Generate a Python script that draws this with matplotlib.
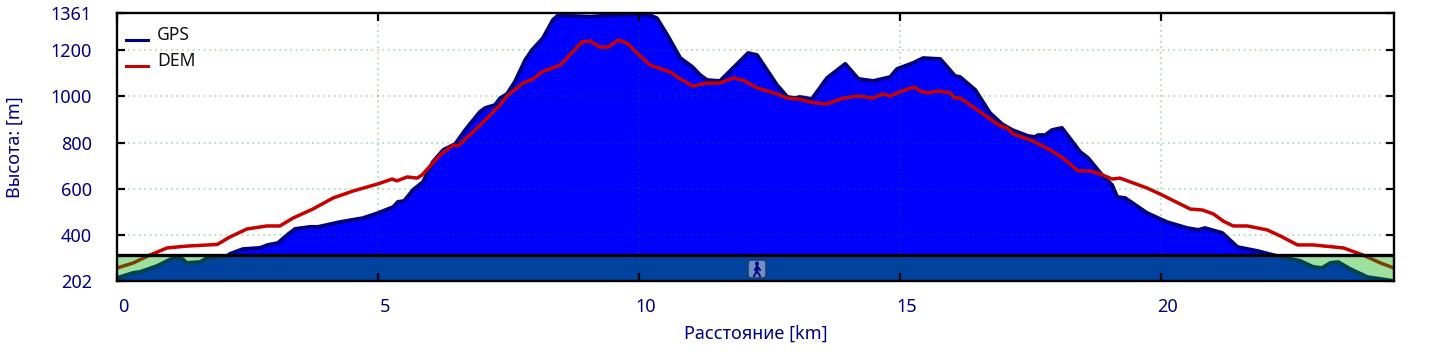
import matplotlib
matplotlib.use("Agg")
import matplotlib.pyplot as plt
from matplotlib.patches import FancyBboxPatch, Circle
from matplotlib.lines import Line2D
from matplotlib.transforms import ScaledTranslation

plt.rcParams['font.family'] = ['Noto Sans', 'DejaVu Sans']

gps_km = [0, .31, .44, .77, 1.07, 1.25, 1.34, 1.59, 1.72, 2.11, 2.16, 2.41, 2.74, 2.89, 3.08, 3.26, 3.41, 3.70, 3.85,
          4.27, 4.71, 5.0, 5.29, 5.38, 5.50, 5.67, 5.86, 6.05, 6.25, 6.48, 6.67, 6.95, 7.05, 7.24, 7.34, 7.47, 7.62,
          7.82, 7.95, 8.16, 8.35, 8.45, 9.06, 9.50, 9.98, 10.21, 10.34, 10.54, 10.79, 11.02, 11.17, 11.30, 11.55,
          11.80, 12.09, 12.26, 12.64, 12.84, 12.99, 13.08, 13.31, 13.60, 13.95, 14.20, 14.48, 14.81, 14.94, 15.25,
          15.44, 15.77, 16.05, 16.15, 16.44, 16.72, 16.95, 17.15, 17.45, 17.59, 17.64, 17.78, 17.91, 18.10, 18.45,
          18.60, 18.87, 19.06, 19.16, 19.31, 19.73, 20.11, 20.50, 20.71, 20.84, 21.17, 21.46, 21.84, 22.15, 22.66,
          22.91, 23.08, 23.24, 23.39, 23.62, 23.95, 24.46]
gps_alt = [215, 237, 241, 267, 301, 297, 280, 284, 301, 310, 319, 340, 345, 358, 366, 401, 427, 436, 436,
           457, 474, 496, 522, 544, 548, 596, 630, 717, 769, 795, 855, 933, 950, 963, 993, 1011, 1063,
           1158, 1201, 1253, 1331, 1351, 1345, 1352, 1354, 1351, 1339, 1266, 1166, 1128, 1093, 1071, 1067,
           1123, 1188, 1179, 1050, 998, 993, 998, 989, 1080, 1141, 1076, 1067, 1084, 1119, 1145,
           1166, 1162, 1089, 1084, 1028, 929, 881, 855, 829, 825, 833, 833, 855, 864, 760,
           734, 660, 617, 565, 561, 496, 457, 431, 423, 431, 410, 349, 332, 314, 289,
           263, 258, 280, 284, 254, 219, 202]

dem_km = [0, .31, .63, .96, 1.34, 1.92, 2.16, 2.49, 2.87, 3.12, 3.37, 3.75, 4.14, 4.52, 5.0, 5.27, 5.36, 5.56, 5.75,
          5.84, 6.19, 6.44, 6.53, 6.86, 7.34, 7.47, 7.78, 7.97, 8.14, 8.49, 8.91, 9.06, 9.25, 9.41, 9.60, 9.77, 9.96,
          10.21, 10.59, 10.79, 11.03, 11.30, 11.55, 11.80, 11.99, 12.26, 12.64, 12.84, 13.03, 13.22, 13.37, 13.60,
          13.91, 14.20, 14.48, 14.67, 14.81, 15.04, 15.27, 15.38, 15.54, 15.73, 15.96, 16.05, 16.15, 16.40, 16.67,
          16.92, 17.05, 17.16, 17.55, 17.87, 18.12, 18.41, 18.64, 18.83, 19.06, 19.21, 19.73, 19.98, 20.56, 20.79,
          21.0, 21.19, 21.38, 21.65, 22.03, 22.28, 22.61, 22.91, 23.49, 23.87, 24.20, 24.46]
dem_alt = [258, 280, 314, 345, 353, 360, 392, 427, 440, 440, 474, 513, 561, 591, 622, 643, 635, 652, 647,
           660, 747, 790, 786, 855, 963, 1002, 1058, 1076, 1106, 1136, 1236, 1240, 1214, 1214, 1244, 1231, 1188,
           1136, 1106, 1076, 1045, 1058, 1058, 1080, 1071, 1037, 1011, 993, 989, 980, 972, 968,
           993, 1002, 993, 1011, 1002, 1024, 1041, 1024, 1015, 1024, 1015, 993, 993, 955, 911,
           872, 864, 838, 807, 769, 734, 678, 678, 665, 643, 647, 604, 578, 513, 509,
           492, 461, 440, 440, 423, 397, 358, 358, 345, 314, 280, 258]

x_ticks = [0, 5, 10, 15, 20]
y_ticks = [202, 400, 600, 800, 1000, 1200, 1361]
y_min, y_max = 202, 1361
x_max = 24.46
band_top = 314

W, H = 1453, 359
navy = '#000080'

fig = plt.figure(figsize=(W / 100, H / 100), dpi=100)
ax = fig.add_axes([117 / W, (H - 281) / H, 1277 / W, 268 / H])

ax.fill_between(gps_km, gps_alt, y_min, color='#0000ff', lw=0, zorder=1)
ax.plot(gps_km, gps_alt, color=navy, lw=2.8, zorder=2, solid_joinstyle='round')
ax.plot(dem_km, dem_alt, color='#c80000', lw=2.5, zorder=2.1, solid_joinstyle='round')

# band at the bottom tints everything under it
ax.axhspan(y_min, band_top, color='#00ae00', alpha=0.38, lw=0, zorder=2.2)
ax.axhline(band_top, color='black', lw=2.4, zorder=2.3)

ax.set_xlim(0, x_max)
ax.set_ylim(y_min, y_max)
ax.set_xticks(x_ticks)
ax.set_yticks(y_ticks)
ax.set_axisbelow(False)
ax.grid(True, color='#008000', alpha=0.28, ls=(0, (1, 2)), lw=1.3)
ax.tick_params(direction='in', length=6, width=1.6, color='black', top=True, right=True,
               labelcolor=navy, labelsize=13)
ax.tick_params(axis='x', pad=12)
ax.tick_params(axis='y', pad=18)
for lab in ax.get_xticklabels():
    lab.set_transform(lab.get_transform() + ScaledTranslation(6.5 / 100, 0, fig.dpi_scale_trans))
for s in ax.spines.values():
    s.set_linewidth(1.7)
    s.set_zorder(6)

fig.text(15 / W, 1 - 147 / H, 'Высота: [m]', rotation=90, color=navy, fontsize=13, ha='center', va='center')
fig.text(756 / W, 1 - 334 / H, 'Расстояние [km]', color=navy, fontsize=13, ha='center', va='center')

# legend drawn by hand, the handles sit lower than the text
for name, color, y in [('GPS', navy, 35), ('DEM', '#c80000', 61)]:
    fig.add_artist(Line2D([126 / W, 148 / W], [1 - (y + 5) / H] * 2, color=color, lw=2.2))
    fig.text(157 / W, 1 - y / H, name, color='#111111', fontsize=12.6, ha='left', va='center')

# walking icon
fig.add_artist(FancyBboxPatch((748 / W, 1 - 278 / H), 18 / W, 18 / H, boxstyle='round,pad=0,rounding_size=0.002',
                              transform=fig.transFigure, fc='#6b8fc9', ec='#1d3a6e', lw=1.2, mutation_aspect=W / H))
fig.add_artist(Circle((757, H - 263.5), 2, transform=None, fc=navy, ec='none'))
for xs, ys in [([757, 757], [266, 271]), ([757, 754], [271, 276]), ([757, 760], [271, 276]),
               ([757, 755], [266, 270]), ([757, 760], [266, 270])]:
    fig.add_artist(Line2D([x / W for x in xs], [1 - y / H for y in ys], color=navy, lw=1.4))

fig.savefig('out.png', dpi=100)
